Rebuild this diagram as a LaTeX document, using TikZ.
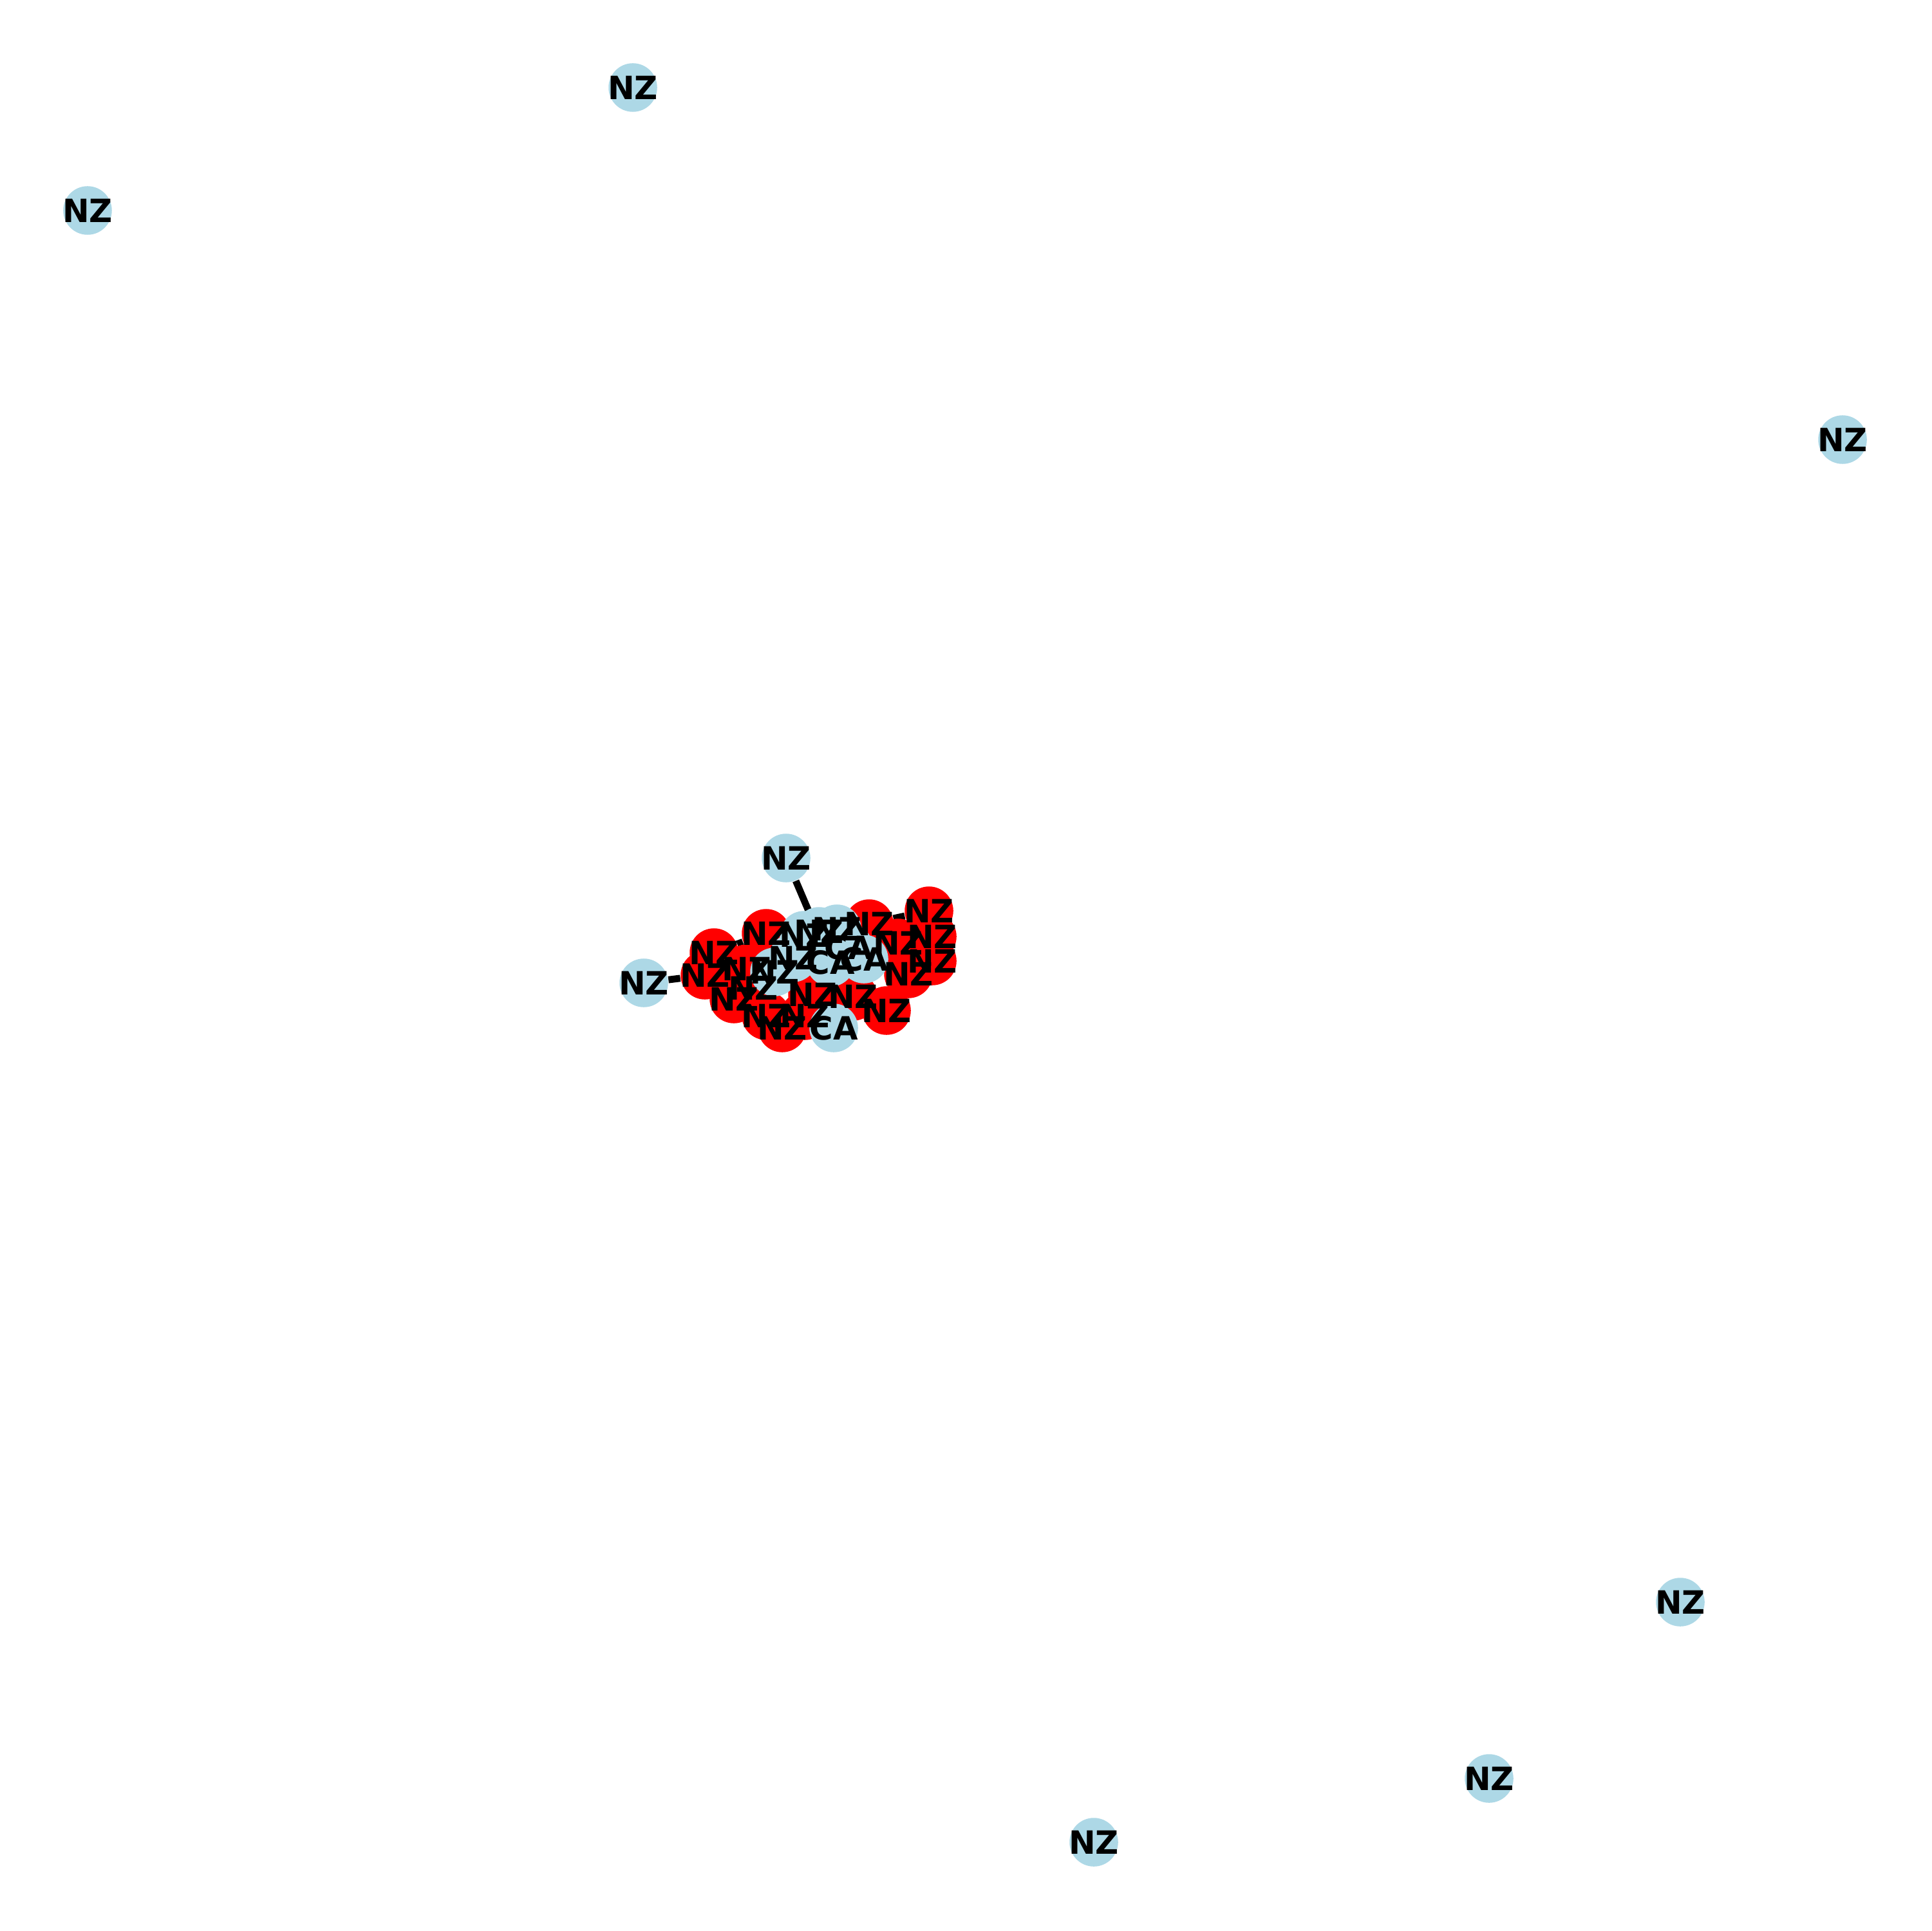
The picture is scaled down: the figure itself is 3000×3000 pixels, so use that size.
\documentclass[tikz,border=0pt]{standalone}
\usepackage{fontspec}
\setmainfont{DejaVu Sans}
\usepackage{tikz}
\usetikzlibrary{backgrounds}
\definecolor{lightblue}{RGB}{173,216,230}

\begin{document}
\begin{tikzpicture}[
    x=0.0084667cm, y=-0.0084667cm,
    dot/.style={
        circle, draw=none, inner sep=0pt,
        minimum size=18.2pt
    },
    nzdot/.style={dot, fill=lightblue},
    reddot/.style={dot, fill=red},
    tag/.style={font=\fontsize{12}{14}\selectfont\bfseries, inner sep=0pt},
    link/.style={line width=2.6pt, black},
]
\useasboundingbox (0,0) rectangle (3000,3000);

%% Nodi isolati
\node[nzdot] (far1) at (983,136) {};
\node[nzdot] (far2) at (136,327) {};
\node[nzdot] (far3) at (2862,683) {};
\node[nzdot] (far4) at (2610,2489) {};
\node[nzdot] (far5) at (2313,2763) {};
\node[nzdot] (far6) at (1699,2862) {};

%% Nodi appesi al gruppo
\node[nzdot] (top) at (1221,1333) {};
\node[nzdot] (left) at (1000,1527) {};

%% Gruppo centrale (rossi)
\node[reddot] (r1) at (1109,1480) {};
\node[reddot] (r2) at (1095,1515) {};
\node[reddot] (r3) at (1190,1450) {};
\node[reddot] (r4) at (1350,1435) {};
\node[reddot] (r5) at (1443,1415) {};
\node[reddot] (r6) at (1448,1455) {};
\node[reddot] (r7) at (1448,1493) {};
\node[reddot] (r8) at (1411,1513) {};
\node[reddot] (r9) at (1377,1570) {};
\node[reddot] (r10) at (1215,1597) {};
\node[reddot] (r11) at (1140,1552) {};
\node[reddot] (r12) at (1190,1578) {};
\node[reddot] (r13) at (1262,1545) {};
\node[reddot] (r14) at (1325,1548) {};
\node[reddot] (r15) at (1395,1465) {};
\node[reddot] (r16) at (1160,1505) {};
\node[reddot] (r17) at (1250,1578) {};
\node[reddot] (r18) at (1170,1535) {};

%% Gruppo centrale (azzurri)
\node[nzdot] (b1) at (1249,1453) {};
\node[nzdot] (b2) at (1300,1443) {};
\node[nzdot] (b9) at (1272,1447) {};
\node[nzdot] (b3) at (1203,1510) {};
\node[nzdot] (b7) at (1232,1488) {};
\node[nzdot] (b4) at (1342,1490) {};
\node[nzdot] (b8) at (1318,1472) {};
\node[nzdot] (b5) at (1295,1597) {};
\node[nzdot] (b6) at (1290,1495) {};

%% Archi
\begin{scope}[on background layer]
\draw[link] (top) -- (b6);
\draw[link] (left) -- (r2);
\draw[link] (r1) -- (r3);
\draw[link] (r4) -- (r5);
\end{scope}

%% Etichette
\node[tag] (t-far1) at (far1) {NZ};
\node[tag] (t-far2) at (far2) {NZ};
\node[tag] (t-far3) at (far3) {NZ};
\node[tag] (t-far4) at (far4) {NZ};
\node[tag] (t-far5) at (far5) {NZ};
\node[tag] (t-far6) at (far6) {NZ};
\node[tag] (t-top) at (top) {NZ};
\node[tag] (t-left) at (left) {NZ};
\node[tag] (t-r1) at (r1) {NZ};
\node[tag] (t-r2) at (r2) {NZ};
\node[tag] (t-r3) at (r3) {NZ};
\node[tag] (t-r4) at (r4) {NZ};
\node[tag] (t-r5) at (r5) {NZ};
\node[tag] (t-r6) at (r6) {NZ};
\node[tag] (t-r7) at (r7) {NZ};
\node[tag] (t-r8) at (r8) {NZ};
\node[tag] (t-r9) at (r9) {NZ};
\node[tag] (t-r10) at (r10) {NZ};
\node[tag] (t-r11) at (r11) {NZ};
\node[tag] (t-r12) at (r12) {NZ};
\node[tag] (t-r13) at (r13) {NZ};
\node[tag] (t-r14) at (r14) {NZ};
\node[tag] (t-r15) at (r15) {NZ};
\node[tag] (t-r16) at (r16) {NZ};
\node[tag] (t-r17) at (r17) {NZ};
\node[tag] (t-r18) at (r18) {NZ};
\node[tag] (t-b1) at (b1) {NZ};
\node[tag] (t-b2) at (b2) {NZ};
\node[tag] (t-b9) at (b9) {NZ};
\node[tag] (t-b3) at (b3) {NZ};
\node[tag] (t-b7) at (b7) {NZ};
\node[tag] (t-b4) at (b4) {CA};
\node[tag] (t-b8) at (b8) {CA};
\node[tag] (t-b5) at (b5) {CA};
\node[tag] (t-b6) at (b6) {CA};

\end{tikzpicture}
\end{document}
